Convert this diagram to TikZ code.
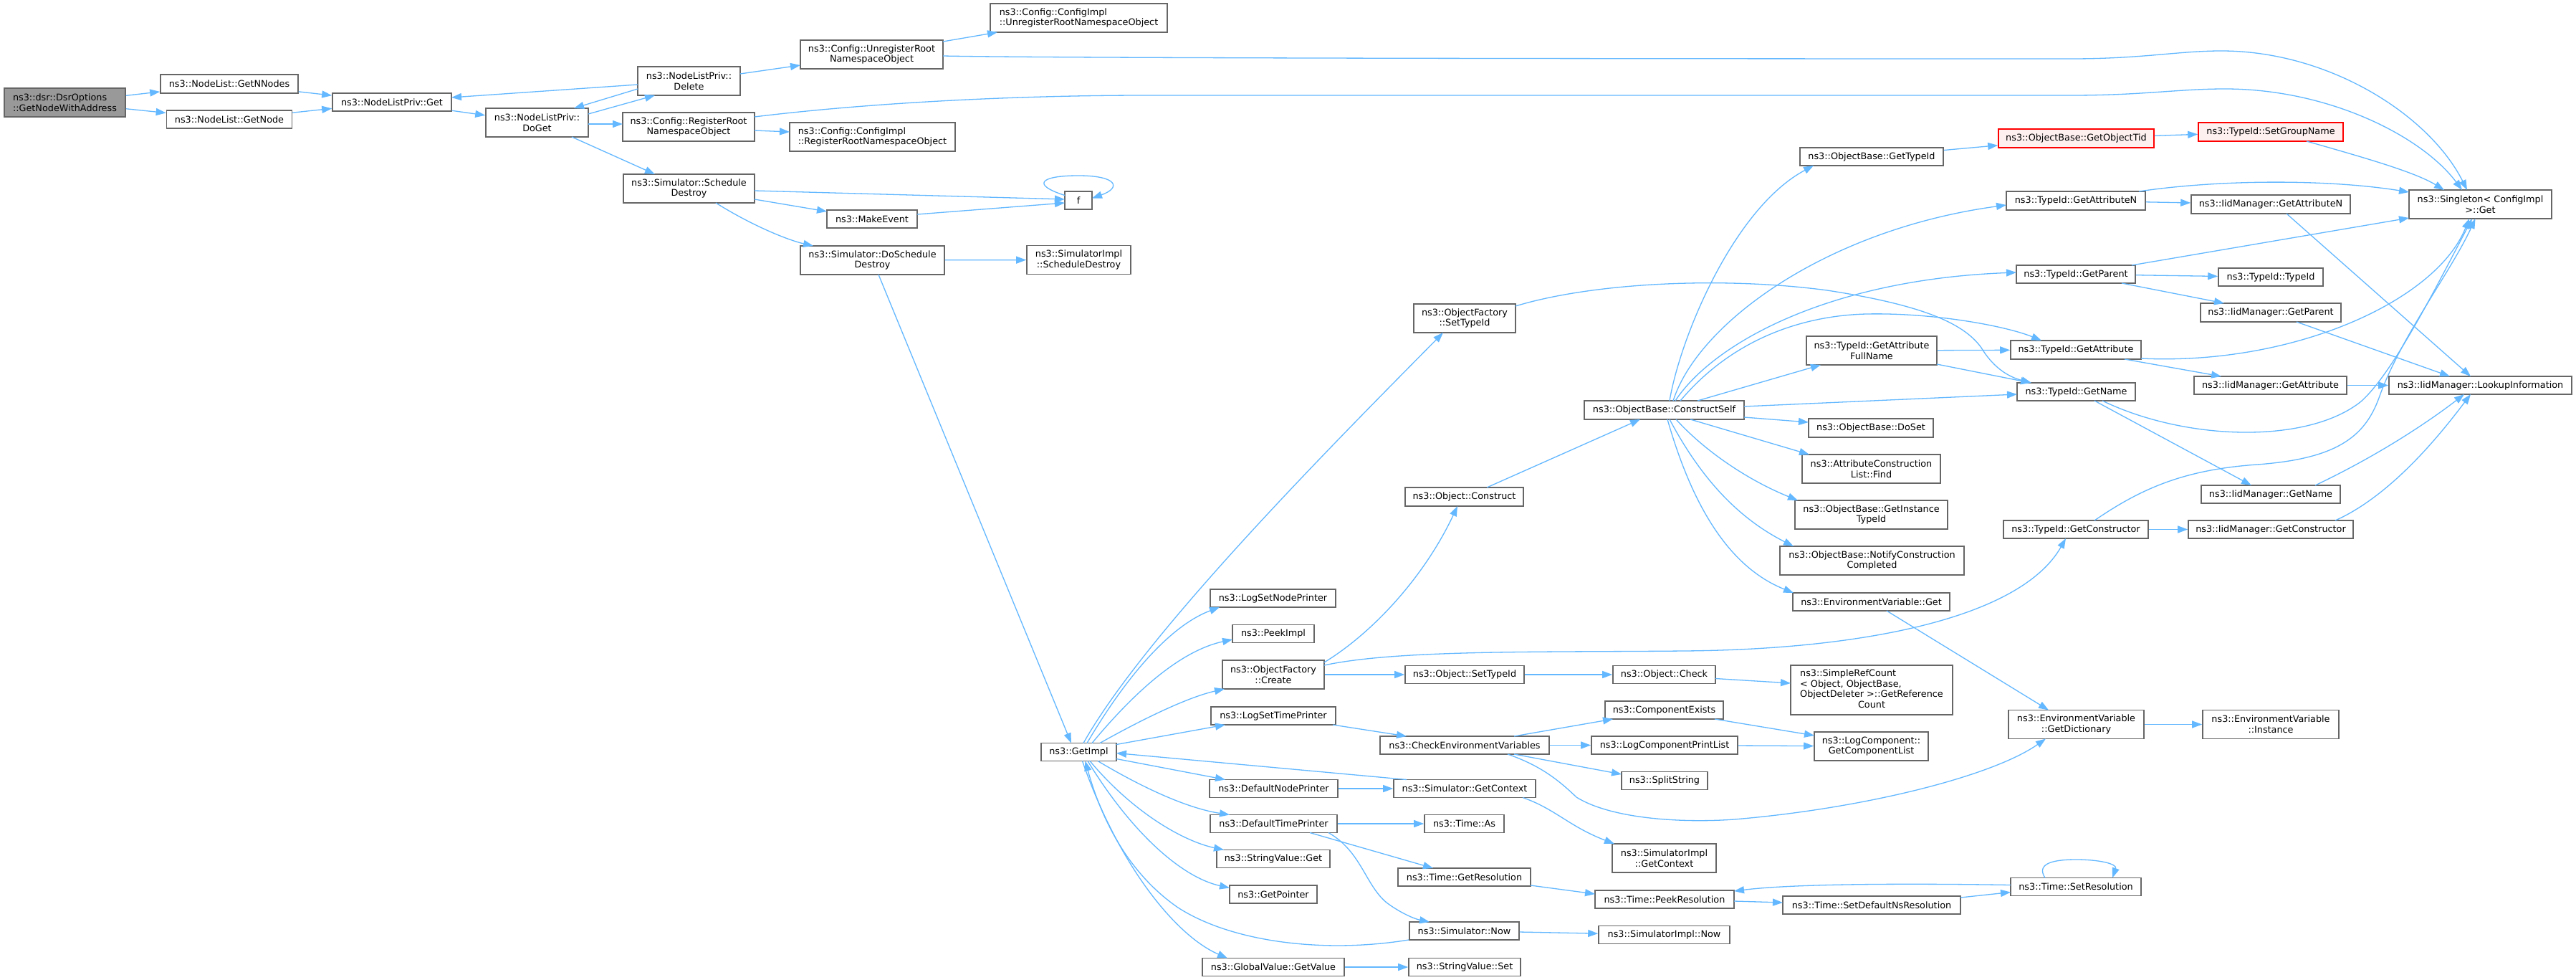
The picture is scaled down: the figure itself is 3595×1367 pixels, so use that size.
\documentclass[tikz,border=0pt]{standalone}
\usepackage{fontspec}
\setmainfont{DejaVu Sans}
\usetikzlibrary{arrows.meta,calc}
\definecolor{eblue}{HTML}{63B8FF}
\definecolor{bgray}{HTML}{666666}
\definecolor{rootfill}{HTML}{999999}
\definecolor{redfill}{HTML}{FFF0F0}
\begin{document}
\begin{tikzpicture}[x=1pt,y=-1pt,
  nbox/.style={draw=bgray, line width=1.6pt, fill=white, inner sep=0pt, align=center,
    font=\fontsize{12.8pt}{14.7pt}\selectfont, minimum height=25pt},
  two/.style={minimum height=40pt},
  redbox/.style={draw=red, fill=redfill},
  cedge/.style={draw=eblue, line width=1.3pt, -{Triangle[length=14pt,width=10pt]}},
]
\useasboundingbox (0,0) rectangle (3595,1367);
\fill[white] (0,0) rectangle (3595,1367);

% ---------- nodes ----------
\node[nbox, two, fill=rootfill, minimum width=169pt, align=left] (root) at (90.5,143) {ns3::dsr::DsrOptions\\::GetNodeWithAddress};
\node[nbox, minimum width=192pt, minimum height=26pt] (getnnodes) at (320,117) {ns3::NodeList::GetNNodes};
\node[nbox, minimum width=175pt] (getnode) at (320,166.5) {ns3::NodeList::GetNode};
\node[nbox, minimum width=166pt] (nlpget) at (547,142.5) {ns3::NodeListPriv::Get};
\node[nbox, two, minimum width=143pt] (doget) at (749.5,171) {ns3::NodeListPriv::\\DoGet};
\node[nbox, two, minimum width=143pt] (delete) at (961.5,113) {ns3::NodeListPriv::\\Delete};
\node[nbox, two, minimum width=199pt] (unreg) at (1216.5,76) {ns3::Config::UnregisterRoot\\NamespaceObject};
\node[nbox, two, minimum width=247pt, align=left] (implunreg) at (1505.5,25) {ns3::Config::ConfigImpl\\::UnregisterRootNamespaceObject};
\node[nbox, two, minimum width=184pt] (reg) at (961,177) {ns3::Config::RegisterRoot\\NamespaceObject};
\node[nbox, two, minimum width=231pt, align=left] (implreg) at (1217.5,191) {ns3::Config::ConfigImpl\\::RegisterRootNamespaceObject};
\node[nbox, two, minimum width=183pt] (sched) at (961.5,263) {ns3::Simulator::Schedule\\Destroy};
\node[nbox, minimum width=126pt] (makeevent) at (1217,305.5) {ns3::MakeEvent};
\node[nbox, minimum width=38pt] (f) at (1505,279.5) {f};
\node[nbox, two, minimum width=201pt] (dosched) at (1217.5,363) {ns3::Simulator::DoSchedule\\Destroy};
\node[nbox, two, minimum width=145pt] (implsched) at (1505.5,362.5) {ns3::SimulatorImpl\\::ScheduleDestroy};
\node[nbox, minimum width=105pt] (getimpl) at (1505.5,1049) {ns3::GetImpl};
\node[nbox, two, minimum width=142pt] (ofsettypeid) at (2044,444) {ns3::ObjectFactory\\::SetTypeId};
\node[nbox, minimum width=165pt, minimum height=26pt] (construct) at (2043.5,693) {ns3::Object::Construct};
\node[nbox, minimum width=175pt] (logsetnode) at (1776.5,834.5) {ns3::LogSetNodePrinter};
\node[nbox, minimum width=114pt] (peekimpl) at (1777,884) {ns3::PeekImpl};
\node[nbox, two, minimum width=142pt] (create) at (1777,941) {ns3::ObjectFactory\\::Create};
\node[nbox, minimum width=166pt] (objsettypeid) at (2044,941) {ns3::Object::SetTypeId};
\node[nbox, minimum width=174pt] (logsettime) at (1777,998.5) {ns3::LogSetTimePrinter};
\node[nbox, minimum width=236pt] (checkenv) at (2044,1039.5) {ns3::CheckEnvironmentVariables};
\node[nbox, minimum width=179pt] (defnode) at (1777.5,1100) {ns3::DefaultNodePrinter};
\node[nbox, minimum width=198pt] (simgetctx) at (2044,1100) {ns3::Simulator::GetContext};
\node[nbox, minimum width=177pt] (deftime) at (1777.5,1149) {ns3::DefaultTimePrinter};
\node[nbox, minimum width=111pt] (timeas) at (2043.5,1149) {ns3::Time::As};
\node[nbox, minimum width=158pt] (strget) at (1777,1198) {ns3::StringValue::Get};
\node[nbox, minimum width=185pt] (getres) at (2043.5,1223.5) {ns3::Time::GetResolution};
\node[nbox, minimum width=122pt] (getpointer) at (1777,1247.5) {ns3::GetPointer};
\node[nbox, minimum width=153pt] (simnow) at (2043.5,1298.5) {ns3::Simulator::Now};
\node[nbox, minimum width=198pt] (gvget) at (1777,1349) {ns3::GlobalValue::GetValue};
\node[nbox, minimum width=156pt] (strset) at (2044,1349) {ns3::StringValue::Set};
\node[nbox, minimum width=223pt, minimum height=26pt] (constructself) at (2322.5,572) {ns3::ObjectBase::ConstructSelf};
\node[nbox, minimum width=143pt] (objcheck) at (2322.5,941) {ns3::Object::Check};
\node[nbox, minimum width=165pt] (compexists) at (2322.5,990.5) {ns3::ComponentExists};
\node[nbox, minimum width=204pt] (logcompprint) at (2323,1039.5) {ns3::LogComponentPrintList};
\node[nbox, minimum width=120pt] (splitstring) at (2323,1089) {ns3::SplitString};
\node[nbox, two, minimum width=145pt] (implgetctx) at (2322.5,1197) {ns3::SimulatorImpl\\::GetContext};
\node[nbox, minimum width=194pt] (peekres) at (2323,1254.5) {ns3::Time::PeekResolution};
\node[nbox, minimum width=183pt] (implnow) at (2322.5,1304) {ns3::SimulatorImpl::Now};
\node[nbox, minimum width=200pt] (obgettypeid) at (2612,218.5) {ns3::ObjectBase::GetTypeId};
\node[nbox, two, minimum width=182pt] (fullname) at (2612,489) {ns3::TypeId::GetAttribute\\FullName};
\node[nbox, minimum width=174pt, minimum height=26pt] (doset) at (2611,597) {ns3::ObjectBase::DoSet};
\node[nbox, two, minimum width=193pt] (find) at (2611.5,654) {ns3::AttributeConstruction\\List::Find};
\node[nbox, two, minimum width=213pt] (instancetid) at (2611.5,718) {ns3::ObjectBase::GetInstance\\TypeId};
\node[nbox, two, minimum width=257pt] (notify) at (2612.5,782) {ns3::ObjectBase::NotifyConstruction\\Completed};
\node[nbox, minimum width=219pt] (envget) at (2611.5,839.5) {ns3::EnvironmentVariable::Get};
\node[nbox, minimum width=226pt, minimum height=69pt] (simplerefcount) at (2612,962.5) {\begin{tabular}{@{}l@{}}ns3::SimpleRefCount\\ {<} Object, ObjectBase,\\ ObjectDeleter {>}::GetReference\\ \multicolumn{1}{@{}c@{}}{Count}\end{tabular}};
\node[nbox, two, minimum width=159pt] (getcomplist) at (2611.5,1041) {ns3::LogComponent::\\GetComponentList};
\node[nbox, minimum width=248pt] (setdefns) at (2612,1262.5) {ns3::Time::SetDefaultNsResolution};
\node[nbox, redbox, minimum width=217pt, minimum height=26pt] (getobjecttid) at (2897.5,193) {ns3::ObjectBase::GetObjectTid};
\node[nbox, minimum width=194pt, minimum height=26pt] (getattrn) at (2897,280) {ns3::TypeId::GetAttributeN};
\node[nbox, minimum width=166pt] (getparent) at (2897,382.5) {ns3::TypeId::GetParent};
\node[nbox, minimum width=182pt, minimum height=26pt] (getattr) at (2897,488) {ns3::TypeId::GetAttribute};
\node[nbox, minimum width=165pt] (getname) at (2897.5,546.5) {ns3::TypeId::GetName};
\node[nbox, minimum width=202pt] (getctor) at (2897,738.5) {ns3::TypeId::GetConstructor};
\node[nbox, two, minimum width=189pt] (getdict) at (2897.5,1010.5) {ns3::EnvironmentVariable\\::GetDictionary};
\node[nbox, minimum width=182pt] (setres) at (2897,1237) {ns3::Time::SetResolution};
\node[nbox, redbox, minimum width=202pt, minimum height=26pt] (setgroup) at (3169,184) {ns3::TypeId::SetGroupName};
\node[nbox, minimum width=222pt, minimum height=26pt] (iidgetattrn) at (3169,285) {ns3::IidManager::GetAttributeN};
\node[nbox, minimum width=146pt] (typeid) at (3169,386.5) {ns3::TypeId::TypeId};
\node[nbox, minimum width=196pt, minimum height=26pt] (iidgetparent) at (3169,436) {ns3::IidManager::GetParent};
\node[nbox, minimum width=213pt] (iidgetattr) at (3168.5,537.5) {ns3::IidManager::GetAttribute};
\node[nbox, minimum width=194pt] (iidgetname) at (3169,689.5) {ns3::IidManager::GetName};
\node[nbox, minimum width=230pt] (iidgetctor) at (3169,738.5) {ns3::IidManager::GetConstructor};
\node[nbox, two, minimum width=190pt] (instance) at (3169,1010.5) {ns3::EnvironmentVariable\\::Instance};
\node[nbox, two, minimum width=199pt] (singleton) at (3461.5,285) {ns3::Singleton{<} ConfigImpl\\{>}::Get};
\node[nbox, minimum width=255pt] (lookup) at (3461.5,537.5) {ns3::IidManager::LookupInformation};

% ---------- edges ----------
\draw[cedge] (root) -- (getnnodes);
\draw[cedge] (root) -- (getnode);
\draw[cedge] (getnnodes) -- (nlpget);
\draw[cedge] (getnode) -- (nlpget);
\draw[cedge] (nlpget) -- (doget);
\draw[cedge] ($(doget)+(71.5,-12)$) -- ($(delete)+(-47.5,20)$);
\draw[cedge] ($(delete)+(-71.5,5)$) -- ($(nlpget)+(83,-6.5)$);
\draw[cedge] ($(delete)+(-71.5,11)$) -- ($(doget)+(51.5,-20)$);
\draw[cedge] ($(delete)+(71.5,-10)$) -- ($(unreg)+(-99.5,15)$);
\draw[cedge] ($(doget)+(71.5,2)$) -- ($(reg)+(-92,-4)$);
\draw[cedge] ($(doget)+(48.5,20)$) -- ($(sched)+(-47.5,-20)$);
\draw[cedge] ($(unreg)+(99.5,-18)$) -- ($(implunreg)+(-113.5,20)$);
\draw[cedge] ($(unreg)+(99.5,2)$) .. controls (1500,82) and (2700,82) .. (2891,82)
   .. controls (2990,82) and (3040,71) .. (3100,71)
   .. controls (3250,71) and (3390,160) .. ($(singleton)+(-18.5,-20)$);
\draw[cedge] ($(reg)+(92,-14)$) .. controls (1200,145) and (1400,133) .. (1600,133) -- (2891,133)
   .. controls (2990,133) and (3040,124) .. (3105,124)
   .. controls (3250,124) and (3380,190) .. ($(singleton)+(-25.5,-20)$);
\draw[cedge] ($(reg)+(92,5)$) -- ($(implreg)+(-115.5,-7)$);
\draw[cedge] ($(sched)+(91.5,3)$) -- ($(f)+(-19,-1.5)$);
\draw[cedge] ($(sched)+(91.5,15)$) -- ($(makeevent)+(-63,-10.5)$);
\draw[cedge] ($(makeevent)+(63,-6.5)$) -- ($(f)+(-19,3.5)$);
\draw[cedge] ($(f)+(-19,-7)$) .. controls (1440,258) and (1450,245) .. (1505,245)
   .. controls (1560,245) and (1565,262) .. ($(f)+(19,-3)$);
\draw[cedge] ($(sched)+(37.5,20)$) .. controls (1050,315) and (1100,335) .. ($(dosched)+(-82.5,-20)$);
\draw[cedge] (dosched) -- (implsched);
\draw[cedge] ($(dosched)+(8.5,20)$) -- ($(getimpl)+(-10.5,-12.5)$);

% GetImpl fan
\draw[cedge] ($(getimpl)+(6.5,-12.5)$) .. controls (1600,880) and (1870,610) .. ($(ofsettypeid)+(-30,20)$);
\draw[cedge] ($(getimpl)+(11.5,-12.5)$) .. controls (1580,930) and (1640,870) .. ($(logsetnode)+(-74.5,12.5)$);
\draw[cedge] ($(getimpl)+(18.5,-12.5)$) .. controls (1600,945) and (1660,905) .. ($(peekimpl)+(-57,8)$);
\draw[cedge] ($(getimpl)+(29.5,-12.5)$) .. controls (1600,1000) and (1660,972) .. ($(create)+(-68,20)$);
\draw[cedge] ($(getimpl)+(52.5,-10.5)$) -- ($(logsettime)+(-67,12.5)$);
\draw[cedge] ($(getimpl)+(52.5,9.5)$) -- ($(defnode)+(-67.5,-12.5)$);
\draw[cedge] ($(getimpl)+(26.5,12.5)$) .. controls (1600,1102) and (1660,1128) .. ($(deftime)+(-61.5,-12.5)$);
\draw[cedge] ($(getimpl)+(15.5,12.5)$) .. controls (1580,1132) and (1650,1173) .. ($(strget)+(-69,-12.5)$);
\draw[cedge] ($(getimpl)+(12.5,12.5)$) .. controls (1580,1163) and (1650,1224) .. ($(getpointer)+(-61,-9)$);
\draw[cedge] ($(getimpl)+(5,12.5)$) .. controls (1560,1205) and (1640,1305) .. ($(gvget)+(-64,-12.5)$);
\draw[cedge] ($(simnow)+(-77.5,12.5)$) .. controls (1850,1330) and (1720,1315) .. (1644,1266)
   .. controls (1570,1215) and (1535,1135) .. ($(getimpl)+(9,12.5)$);
\draw[cedge] ($(simgetctx)+(-81,-12.5)$) -- ($(getimpl)+(52.5,1.5)$);

% second column
\draw[cedge] ($(ofsettypeid)+(71,-17)$) .. controls (2220,395) and (2400,385) .. (2550,405)
   .. controls (2680,425) and (2740,450) .. (2765,485)
   .. controls (2780,510) and (2800,525) .. ($(getname)+(-62.5,-12.5)$);
\draw[cedge] ($(create)+(71,-17)$) .. controls (1920,880) and (1990,800) .. ($(construct)+(-9.5,13)$);
\draw[cedge] (create) -- (objsettypeid);
\draw[cedge] ($(create)+(71,-13)$) .. controls (1950,906) and (2150,910) .. (2350,908)
   .. controls (2600,906) and (2820,862) .. ($(getctor)+(-14,12.5)$);
\draw[cedge] ($(construct)+(31.5,-13)$) -- ($(constructself)+(-33.5,13)$);
\draw[cedge] (objsettypeid) -- (objcheck);
\draw[cedge] ($(objcheck)+(71.5,5.5)$) -- ($(simplerefcount)+(-113,-9.5)$);
\draw[cedge] ($(logsettime)+(83,12.5)$) -- ($(checkenv)+(-81,-12.5)$);
\draw[cedge] ($(checkenv)+(69,-12.5)$) -- ($(compexists)+(-71.5,12.5)$);
\draw[cedge] (checkenv) -- (logcompprint);
\draw[cedge] ($(checkenv)+(69,12.5)$) -- ($(splitstring)+(-60,-9)$);
\draw[cedge] ($(checkenv)+(60,12.5)$) .. controls (2150,1068) and (2175,1088) .. (2200,1112)
   .. controls (2250,1143) and (2350,1148) .. (2420,1143)
   .. controls (2600,1128) and (2780,1083) .. ($(getdict)+(-42.5,20)$);
\draw[cedge] ($(compexists)+(70.5,12.5)$) -- ($(getcomplist)+(-79.5,-15)$);
\draw[cedge] (logcompprint) -- (getcomplist);
\draw[cedge] (defnode) -- (simgetctx);
\draw[cedge] ($(simgetctx)+(81,12.5)$) .. controls (2170,1128) and (2190,1153) .. ($(implgetctx)+(-69.5,-20)$);
\draw[cedge] (deftime) -- (timeas);
\draw[cedge] ($(deftime)+(50.5,12.5)$) -- ($(getres)+(-43.5,-12.5)$);
\draw[cedge] ($(deftime)+(76.5,12.5)$) .. controls (1900,1188) and (1905,1234) .. (1935,1259)
   .. controls (1955,1274) and (1975,1282) .. ($(simnow)+(-48.5,-12.5)$);
\draw[cedge] ($(getres)+(92.5,11.5)$) -- ($(peekres)+(-97,-7.5)$);
\draw[cedge] (simnow) -- (implnow);
\draw[cedge] (gvget) -- (strset);
\draw[cedge] ($(peekres)+(97,2.5)$) -- ($(setdefns)+(-124,-3.5)$);
\draw[cedge] ($(setdefns)+(124,-10.5)$) -- ($(setres)+(-91,7.5)$);
\draw[cedge] ($(setres)+(-91,-2.5)$) .. controls (2650,1232) and (2500,1233) .. ($(peekres)+(97,-11.5)$);
\draw[cedge] ($(setres)+(-43,-12.5)$) .. controls (2840,1203) and (2870,1199) .. (2897,1199)
   .. controls (2930,1199) and (2955,1205) .. ($(setres)+(51,-12.5)$);
\draw[cedge] ($(envget)+(21.5,12.5)$) -- ($(getdict)+(-38.5,-20)$);
\draw[cedge] (getdict) -- (instance);

% ConstructSelf fan
\draw[cedge] ($(constructself)+(7.5,-13)$) .. controls (2345,470) and (2420,290) .. ($(obgettypeid)+(-81,12.5)$);
\draw[cedge] ($(constructself)+(12.5,-13)$) .. controls (2370,450) and (2550,320) .. ($(getattrn)+(-97,6)$);
\draw[cedge] ($(constructself)+(15.5,-13)$) .. controls (2390,480) and (2550,390) .. ($(getparent)+(-83,-2.5)$);
\draw[cedge] ($(constructself)+(22.5,-13)$) .. controls (2420,470) and (2520,440) .. (2605,438)
   .. controls (2700,436) and (2800,455) .. ($(getattr)+(-48,-13)$);
\draw[cedge] ($(constructself)+(46.5,-13)$) -- ($(fullname)+(-71,20)$);
\draw[cedge] ($(constructself)+(111.5,-5)$) -- ($(getname)+(-82.5,3.5)$);
\draw[cedge] ($(constructself)+(111.5,10)$) -- ($(doset)+(-87,-8)$);
\draw[cedge] ($(constructself)+(36.5,13)$) -- ($(find)+(-86.5,-20)$);
\draw[cedge] ($(constructself)+(16.5,13)$) .. controls (2380,630) and (2440,670) .. ($(instancetid)+(-102.5,-20)$);
\draw[cedge] ($(constructself)+(7.5,13)$) .. controls (2370,660) and (2420,720) .. ($(notify)+(-109.5,-20)$);
\draw[cedge] ($(constructself)+(4.5,13)$) .. controls (2360,700) and (2410,790) .. ($(envget)+(-108.5,-12.5)$);

% right part
\draw[cedge] (obgettypeid) -- (getobjecttid);
\draw[cedge] (getobjecttid) -- (setgroup);
\draw[cedge] ($(setgroup)+(50,13)$) .. controls (3300,220) and (3370,240) .. ($(singleton)+(-50.5,-20)$);
\draw[cedge] ($(getattrn)+(88,-13)$) .. controls (3100,250) and (3250,250) .. ($(singleton)+(-99.5,-17)$);
\draw[cedge] (getattrn) -- (iidgetattrn);
\draw[cedge] ($(iidgetattrn)+(22,13)$) -- ($(lookup)+(-13.5,-12.5)$);
\draw[cedge] ($(getparent)+(78,-12.5)$) -- ($(singleton)+(-99.5,19)$);
\draw[cedge] (getparent) -- (typeid);
\draw[cedge] ($(getparent)+(64,12.5)$) -- ($(iidgetparent)+(-65,-13)$);
\draw[cedge] ($(iidgetparent)+(36,13)$) -- ($(lookup)+(-42.5,-12.5)$);
\draw[cedge] (fullname) -- (getattr);
\draw[cedge] ($(fullname)+(91,19)$) -- ($(getname)+(-63.5,-12.5)$);
\draw[cedge] ($(getattr)+(91,12)$) .. controls (3200,510) and (3400,420) .. ($(singleton)+(-15.5,20)$);
\draw[cedge] ($(getattr)+(68,13)$) -- ($(iidgetattr)+(-68.5,-12.5)$);
\draw[cedge] (iidgetattr) -- (lookup);
\draw[cedge] ($(getname)+(36.5,12.5)$) .. controls (3050,615) and (3220,620) .. (3295,560)
   .. controls (3340,520) and (3400,400) .. ($(singleton)+(-11.5,20)$);
\draw[cedge] ($(getname)+(25.5,12.5)$) -- ($(iidgetname)+(-27,-12.5)$);
\draw[cedge] ($(iidgetname)+(62,-12.5)$) .. controls (3330,630) and (3400,580) .. ($(lookup)+(-22.5,12.5)$);
\draw[cedge] ($(getctor)+(26,-12.5)$) .. controls (2990,680) and (3050,655) .. (3150,648)
   .. controls (3260,640) and (3300,610) .. (3320,555)
   .. controls (3350,470) and (3420,380) .. ($(singleton)+(-7,20)$);
\draw[cedge] (getctor) -- (iidgetctor);
\draw[cedge] ($(iidgetctor)+(90,-12.5)$) .. controls (3340,690) and (3410,600) .. ($(lookup)+(-13.5,12.5)$);
\end{tikzpicture}
\end{document}
